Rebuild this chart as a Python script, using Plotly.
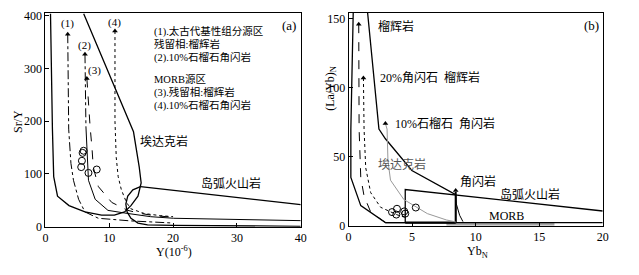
import plotly.graph_objects as go

# ---------------- Panel (a): Sr/Y vs Y ----------------
adk_a_x = [0.8, 0.9, 1.1, 1.3, 1.9, 3.7, 6.2, 8.8, 10.8, 12.4, 13.4, 14.5, 15.0, 14.7, 14.2, 13.8, 6.0]
adk_a_y = [404, 300, 186, 95, 58, 40, 28, 22, 22, 28, 40, 58, 83, 113, 149, 180, 404]

arc_a_top_x = [14.9, 40]
arc_a_top_y = [76, 42]
arc_a_low_x = [14.9, 13.7, 12.9, 12.6, 12.8, 13.4, 14.5, 16, 20, 40]
arc_a_low_y = [76, 70, 58, 43, 28, 16, 7, 3.6, 2.5, 0.8]

c1_x = [3.5, 3.55, 3.65, 4.0, 4.4, 5.2, 6.2, 8.3, 10.9, 13.4, 20]
c1_y = [365, 250, 185, 120, 88, 52, 28, 16, 13, 11, 7]
c2_top_x = [6.2, 6.25, 6.35]
c2_top_y = [327, 250, 190]
c2_x = [6.35, 6.5, 6.75, 7.8, 9.8, 12.4, 16.5, 20.1, 40]
c2_y = [190, 149, 88, 52, 31, 26, 19, 16, 11.5]
c3_x = [6.5, 6.7, 7.0, 7.3, 7.5, 8.3, 10.4, 12.9, 15, 17, 20]
c3_y = [281, 240, 190, 149, 113, 76, 46, 31, 25, 21, 18]
c4_x = [10.9, 10.9, 11.1, 11.4, 11.9, 12.7, 13.4, 15.5, 18, 20]
c4_y = [371, 200, 131, 95, 70, 46, 34, 25, 21, 19]

pts_a_x = [5.98, 5.83, 5.72, 5.61, 6.75, 8.04]
pts_a_y = [144, 140, 125, 113, 102, 108.5]

# ---------------- Panel (b): (La/Yb)N vs YbN ----------------
adk_b_x = [0.37, 0.18, 0.18, 0.96, 2.9, 8.43, 8.43, 4.98, 2.9, 2.39, 1.48]
adk_b_y = [156, 70, 35, 14.6, 2.3, 2.3, 22.5, 40, 63, 70, 156]

arc_b_x = [4.46, 4.46, 20]
arc_b_y = [2.3, 26.2, 10.7]
base_b_x = [2.9, 20]
base_b_y = [2.3, 2.3]
thick_base_x = [4.46, 8.43]
thick_base_y = [2.3, 2.3]
amph_x = [8.43, 8.43]
amph_y = [2.3, 24.5]
amph_curve_x = [8.43, 8.48, 8.74, 9.0]
amph_curve_y = [22, 15.8, 7.6, 3]

d1_x = [0.8, 0.8, 0.83, 0.96, 1.22, 1.74, 2.9]
d1_y = [146, 100, 70, 35, 21.5, 10, 2.3]
d2_x = [1.17, 1.2, 1.22, 1.35, 1.74, 2.52, 3.8, 4.46]
d2_y = [107, 90, 70, 42, 24, 13.4, 8, 6]
d3_x = [2.9, 2.95, 3.03, 3.1, 3.3, 4.35, 6.2, 7.7, 8.43]
d3_y = [74, 72, 70, 47, 33, 19, 8.8, 4.2, 2.8]

pts_b_x = [3.42, 3.81, 3.76, 4.38, 4.46, 5.29]
pts_b_y = [9.9, 12.3, 8.1, 10.4, 8.8, 13.2]

morb_bar_x = [7.7, 16.2]
morb_bar_y = [0, 2.3]

arrow_a_x = [c1_x[0], c2_top_x[0], c3_x[0], c4_x[0]]
arrow_a_y = [c1_y[0], c2_top_y[0], c3_y[0], c4_y[0]]
arrow_b_x = [d1_x[0], d2_x[0], d3_x[0], 8.43]
arrow_b_y = [d1_y[0], d2_y[0], d3_y[0], 25.5]

FONT = "Liberation Serif, Noto Sans CJK SC, serif"

fig = go.Figure()

def line(x, y, xa="x", ya="y", width=1.2, dash="solid", color="black"):
    fig.add_trace(go.Scatter(x=x, y=y, mode="lines", xaxis=xa, yaxis=ya,
                             line=dict(color=color, width=width, dash=dash),
                             hoverinfo="skip", showlegend=False))

# panel a
line(adk_a_x, adk_a_y, width=1.3)
line(arc_a_top_x, arc_a_top_y, width=1.3)
line(arc_a_low_x, arc_a_low_y, width=1.3)
line(c1_x, c1_y, width=1, dash="dashdot")
line(c2_top_x, c2_top_y, width=1, dash="dashdot")
line(c2_x, c2_y, width=1)
line(c3_x, c3_y, width=1, dash="dash")
line(c4_x, c4_y, width=1, dash="dot")
fig.add_trace(go.Scatter(x=arrow_a_x, y=arrow_a_y, mode="markers", xaxis="x", yaxis="y",
                         marker=dict(symbol="triangle-up", size=5, color="black"),
                         hoverinfo="skip", showlegend=False))
fig.add_trace(go.Scatter(x=pts_a_x, y=pts_a_y, mode="markers", xaxis="x", yaxis="y",
                         marker=dict(symbol="circle-open", size=7, color="black", line=dict(width=1)),
                         hoverinfo="skip", showlegend=False))

# panel b
line(adk_b_x, adk_b_y, "x2", "y2", width=1.3)
line(arc_b_x, arc_b_y, "x2", "y2", width=1.3)
line(base_b_x, base_b_y, "x2", "y2", width=1.3)
line(thick_base_x, thick_base_y, "x2", "y2", width=2.2)
line(amph_x, amph_y, "x2", "y2", width=2)
line(amph_curve_x, amph_curve_y, "x2", "y2", width=1)
line(d1_x, d1_y, "x2", "y2", width=1, dash="dash")
line(d2_x, d2_y, "x2", "y2", width=1, dash="dot")
line(d3_x, d3_y, "x2", "y2", width=1, color="#999999")
fig.add_trace(go.Scatter(x=arrow_b_x, y=arrow_b_y, mode="markers", xaxis="x2", yaxis="y2",
                         marker=dict(symbol="triangle-up", size=5, color="black"),
                         hoverinfo="skip", showlegend=False))
fig.add_trace(go.Scatter(x=pts_b_x, y=pts_b_y, mode="markers", xaxis="x2", yaxis="y2",
                         marker=dict(symbol="circle-open", size=7, color="black", line=dict(width=1)),
                         hoverinfo="skip", showlegend=False))

fig.add_shape(type="rect", xref="x2", yref="y2", x0=morb_bar_x[0], x1=morb_bar_x[1],
              y0=morb_bar_y[0], y1=morb_bar_y[1], fillcolor="#a6a6a6", line=dict(width=0),
              layer="below")

def txt(x, y, s, xref="x", yref="y", size=12, xanchor="left", color="black", angle=0):
    fig.add_annotation(x=x, y=y, xref=xref, yref=yref, text=s, showarrow=False,
                       xanchor=xanchor, yanchor="middle", textangle=angle, borderpad=0,
                       font=dict(family=FONT, size=size, color=color))

# panel a texts
LS = 10.5
txt(16.8, 371, "(1).太古代基性组分源区", size=LS)
txt(16.8, 346, "残留相:榴辉岩", size=LS)
txt(16.8, 321, "(2).10%石榴石角闪岩", size=LS)
txt(16.8, 280, "MORB源区", size=LS)
txt(16.8, 255, "(3).残留相:榴辉岩", size=LS)
txt(16.8, 230, "(4).10%石榴石角闪岩", size=LS)
txt(3.5, 386, "(1)", xanchor="center", size=11)
txt(6.2, 344, "(2)", xanchor="center", size=11)
txt(7.7, 296, "(3)", xanchor="center", size=11)
txt(10.9, 388, "(4)", xanchor="center", size=11)
txt(38.2, 382, "(a)", xanchor="center", size=13)
txt(14.7, 162, "埃达克岩")
txt(29.0, 82, "岛弧火山岩", xanchor="center")

# panel b texts
txt(2.2, 144.6, "榴辉岩", "x2", "y2")
txt(2.4, 107.6, "20%角闪石  榴辉岩", "x2", "y2")
txt(3.55, 74, "10%石榴石  角闪岩", "x2", "y2")
txt(2.26, 44.7, "埃达克岩", "x2", "y2", color="#555555")
txt(8.7, 32, "角闪岩", "x2", "y2")
txt(14.26, 22.7, "岛弧火山岩", "x2", "y2", xanchor="center")
txt(12.4, 7.4, "MORB", "x2", "y2", xanchor="center")
txt(19.1, 145, "(b)", "x2", "y2", xanchor="center", size=13)

# axis titles
txt(15 / 639, 1 - 122 / 275, "Sr/Y", "paper", "paper", xanchor="center", angle=-90)
txt(173 / 639, 1 - 258 / 275, "Y(10<sup>-6</sup>)", "paper", "paper", xanchor="center")
txt(333 / 639, 1 - 88 / 275, "(La/Yb)<sub>N</sub>", "paper", "paper", xanchor="center", angle=-90)
txt(481 / 639, 1 - 258 / 275, "Yb<sub>N</sub>", "paper", "paper", xanchor="center")

axis_common = dict(showline=True, mirror=True, linecolor="black", linewidth=1,
                   ticks="inside", ticklen=4, tickcolor="black", showgrid=False,
                   zeroline=False, tickfont=dict(family=FONT, size=12, color="black"))

fig.update_layout(
    width=639, height=275,
    margin=dict(l=0, r=0, t=0, b=0),
    plot_bgcolor="white", paper_bgcolor="white",
    showlegend=False,
    xaxis=dict(domain=[43 / 639, 302 / 639], range=[0, 40], tickvals=[0, 10, 20, 30, 40],
               anchor="y", **axis_common),
    yaxis=dict(domain=[1 - 232 / 275, 1 - 9.5 / 275], range=[0, 405], tickvals=[0, 100, 200, 300, 400],
               anchor="x", **axis_common),
    xaxis2=dict(domain=[350.5 / 639, 608.3 / 639], range=[0, 20], tickvals=[0, 5, 10, 15, 20],
                anchor="y2", **axis_common),
    yaxis2=dict(domain=[1 - 231 / 275, 1 - 9.5 / 275], range=[0, 154], tickvals=[0, 50, 100, 150],
                anchor="x2", **axis_common),
)

fig.write_html("out.html", config={"displayModeBar": False},
               post_script="document.body.style.margin='0';document.body.style.padding='0';document.body.style.overflow='hidden';")
